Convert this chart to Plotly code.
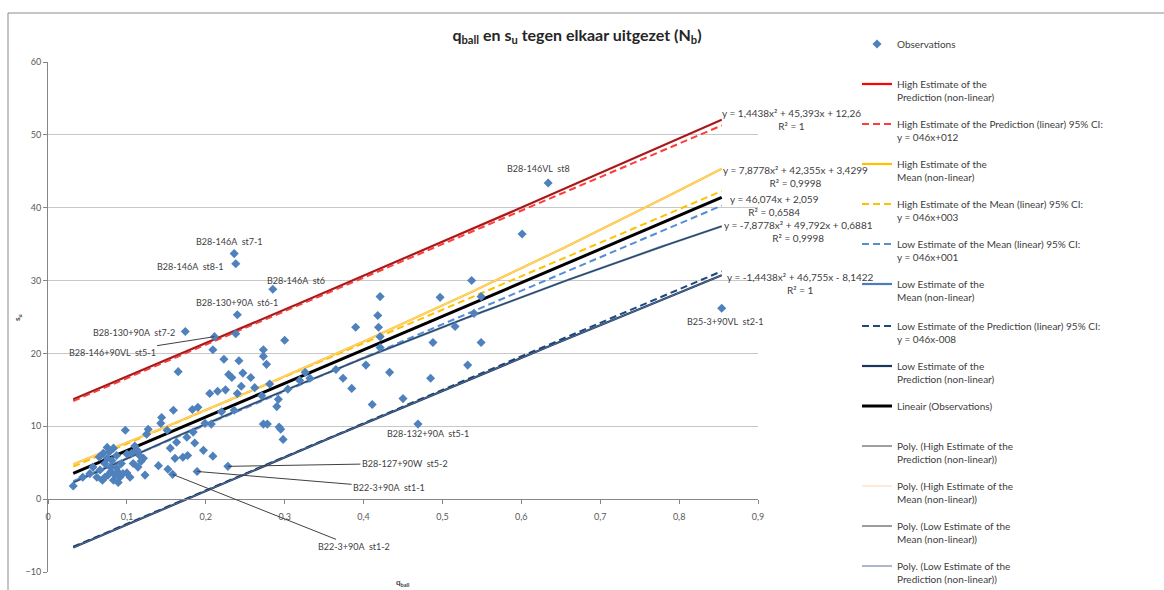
import numpy as np
import plotly.graph_objects as go

# ---------------------------------------------------------------- data
# labelled observations first, then the rest
obs_x = [0.236, 0.238, 0.285, 0.240, 0.174, 0.211, 0.634, 0.854, 0.469, 0.228, 0.189, 0.158,
         0.032, 0.044, 0.053, 0.057, 0.062, 0.066, 0.069, 0.070, 0.072, 0.075, 0.075, 0.076,
         0.079, 0.081, 0.083, 0.083, 0.085, 0.087, 0.089, 0.089, 0.091, 0.098, 0.100, 0.104,
         0.106, 0.108, 0.113, 0.114, 0.116, 0.121, 0.123, 0.125, 0.127, 0.065, 0.078, 0.080,
         0.072, 0.087, 0.093, 0.095, 0.100, 0.110, 0.118,
         0.140, 0.143, 0.144, 0.151, 0.152, 0.155, 0.159, 0.161, 0.163, 0.165, 0.171, 0.176,
         0.177, 0.183, 0.184, 0.186, 0.190, 0.197, 0.199, 0.205, 0.207, 0.209, 0.209,
         0.223, 0.229, 0.233, 0.238, 0.236, 0.242, 0.247, 0.257, 0.262, 0.271, 0.273, 0.273,
         0.273, 0.277, 0.278, 0.281, 0.290, 0.292, 0.293, 0.295, 0.298, 0.300, 0.304, 0.215,
         0.220, 0.225, 0.240, 0.245,
         0.319, 0.332, 0.326, 0.365, 0.374, 0.385, 0.390, 0.403, 0.411, 0.418, 0.419, 0.421,
         0.421, 0.421, 0.433, 0.450, 0.485, 0.488, 0.497, 0.516, 0.532, 0.537, 0.540, 0.549,
         0.549, 0.601]
obs_y = [33.7, 32.3, 28.8, 25.3, 23.0, 22.3, 43.4, 26.2, 10.3, 4.5, 3.8, 3.4,
         1.8, 3.0, 3.5, 4.4, 3.0, 4.0, 2.6, 6.3, 4.9, 7.1, 5.6, 3.3,
         4.4, 5.3, 7.0, 2.6, 3.3, 6.0, 3.7, 2.3, 3.0, 9.45, 3.6, 3.0,
         6.3, 4.9, 6.7, 4.4, 6.0, 5.6, 3.3, 8.9, 9.6, 5.8, 6.5, 3.8,
         3.0, 4.3, 4.9, 3.5, 6.2, 7.3, 5.2,
         4.6, 10.4, 11.2, 9.45, 4.1, 7.0, 12.2, 5.6, 7.8, 17.5, 5.75, 8.5,
         6.0, 12.3, 9.2, 7.7, 12.6, 6.7, 10.4, 14.5, 10.3, 5.9, 20.5,
         19.2, 17.1, 16.7, 22.7, 12.2, 19.0, 17.3, 16.7, 15.3, 14.2, 20.5, 19.6,
         10.3, 18.5, 10.3, 15.8, 12.7, 13.7, 9.9, 9.6, 8.2, 21.8, 15.1, 14.8,
         12.0, 15.0, 14.5, 15.5,
         16.3, 16.6, 17.4, 17.8, 16.6, 15.2, 23.6, 18.4, 13.0, 25.2, 23.6, 22.3,
         20.8, 27.8, 17.4, 13.8, 16.6, 21.5, 27.7, 23.7, 18.4, 30.0, 25.5, 27.8,
         21.5, 36.4]

label_text = ["B28-146A  st7-1", "B28-146A  st8-1", "B28-146A  st6", "B28-130+90A  st6-1",
              "B28-130+90A  st7-2", "B28-146+90VL  st5-1", "B28-146VL  st8",
              "B25-3+90VL  st2-1", "B28-132+90A  st5-1", "B28-127+90W  st5-2",
              "B22-3+90A  st1-1", "B22-3+90A  st1-2"]
label_idx = list(range(12))

# trendline coefficients: (x^2, x, constant)
coef_high_pred_nl = (1.4438, 45.393, 12.26)
coef_high_pred_lin = (0.0, 46.0, 12.0)
coef_high_mean_nl = (7.8778, 42.355, 3.4299)
coef_high_mean_lin = (0.0, 46.0, 3.0)
coef_low_mean_lin = (0.0, 46.0, 1.0)
coef_low_mean_nl = (-7.8778, 49.792, 0.6881)
coef_low_pred_lin = (0.0, 46.0, -8.0)
coef_low_pred_nl = (-1.4438, 46.755, -8.1422)
coef_obs_lin = (0.0, 46.074, 2.059)

eq_high_pred = "y = 1,4438x² + 45,393x + 12,26<br>R² = 1"
eq_high_mean = "y = 7,8778x² + 42,355x + 3,4299<br>R² = 0,9998"
eq_obs = "y = 46,074x + 2,059<br>R² = 0,6584"
eq_low_mean = "y = -7,8778x² + 49,792x + 0,6881<br>R² = 0,9998"
eq_low_pred = "y = -1,4438x² + 46,755x - 8,1422<br>R² = 1"

x_ticks = [0, 0.1, 0.2, 0.3, 0.4, 0.5, 0.6, 0.7, 0.8, 0.9]
x_tick_text = ["0", "0,1", "0,2", "0,3", "0,4", "0,5", "0,6", "0,7", "0,8", "0,9"]
y_ticks = [-10, 0, 10, 20, 30, 40, 50, 60]

# ---------------------------------------------------------------- styling
FONT = "Lato"
TXT = "#404040"
W, H = 1164, 590
ML, MR, MT, MB = 48, 406, 62, 18
PW, PH = W - ML - MR, H - MT - MB
X_RANGE = [0, 0.9]
Y_RANGE = [-10, 60]
DASH = "7px,4px"


def px_x(px):
    return (px - ML) / PW


def px_y(py):
    return (H - MB - py) / PH


xs = np.linspace(min(obs_x), max(obs_x), 120)


def poly(c):
    return c[0] * xs ** 2 + c[1] * xs + c[2]


fig = go.Figure()

# legend label, coefficients, colour, dash, width, rank, legend box
series = [
    ("High Estimate of the<br>Prediction (non-linear)", coef_high_pred_nl, "#FF0000", "solid", 2.2, 2, "legend"),
    ("High Estimate of the Prediction (linear) 95% CI:<br>y = 046x+012", coef_high_pred_lin, "#FF3B3B", DASH, 2.0, 3, "legend"),
    ("High Estimate of the<br>Mean (non-linear)", coef_high_mean_nl, "#FFC000", "solid", 2.2, 4, "legend"),
    ("High Estimate of the Mean (linear) 95% CI:<br>y = 046x+003", coef_high_mean_lin, "#FFC000", DASH, 2.0, 5, "legend"),
    ("Low Estimate of the Mean (linear) 95% CI:<br>y = 046x+001", coef_low_mean_lin, "#558ED5", DASH, 2.0, 6, "legend"),
    ("Low Estimate of the<br>Mean (non-linear)", coef_low_mean_nl, "#4A7EBB", "solid", 2.2, 7, "legend"),
    ("Low Estimate of the Prediction (linear) 95% CI:<br>y = 046x-008", coef_low_pred_lin, "#1F497D", DASH, 2.0, 8, "legend2"),
    ("Low Estimate of the<br>Prediction (non-linear)", coef_low_pred_nl, "#17375E", "solid", 2.2, 9, "legend2"),
]
for name, c, col, dash, w, rank, lg in series:
    fig.add_trace(go.Scatter(x=xs, y=poly(c), mode="lines", name=name,
                             line=dict(color=col, dash=dash, width=w), legend=lg,
                             legendgroup=name, legendrank=rank, hoverinfo="skip"))

fig.add_trace(go.Scatter(x=xs, y=poly(coef_obs_lin), mode="lines",
                         name="Lineair (Observations)<br>\u00a0",
                         line=dict(color="#000000", width=3), legend="legend2",
                         legendgroup="lin", legendrank=10))

overlays = [
    ("Poly. (High Estimate of the<br>Prediction (non-linear))", coef_high_pred_nl, "#404040", 11),
    ("Poly. (High Estimate of the<br>Mean (non-linear))", coef_high_mean_nl, "#FCD5B4", 12),
    ("Poly. (Low Estimate of the<br>Mean (non-linear))", coef_low_mean_nl, "#3A3A3A", 13),
    ("Poly. (Low Estimate of the<br>Prediction (non-linear))", coef_low_pred_nl, "#5A6E96", 14),
]
for name, c, col, rank in overlays:
    fig.add_trace(go.Scatter(x=xs, y=poly(c), mode="lines", name=name,
                             line=dict(color=col, width=1), legend="legend2",
                             legendgroup=name, legendrank=rank, hoverinfo="skip"))

fig.add_trace(go.Scatter(x=obs_x, y=obs_y, mode="markers", name="Observations<br>\u00a0",
                         marker=dict(symbol="diamond", size=7, color="#4F81BD"),
                         legend="legend", legendgroup="obs", legendrank=1))

# ---------------------------------------------------------------- annotations
ann = []
# label offsets in pixels (dx, dy), leader line flag
label_pos = [(-5, -12, False), (-45, 3, False), (23, -9, False), (0, -12, False),
             (-51, 1, False), (-102, 16, True), (-10, -14, False), (3, 13, False),
             (10, 9, False), (177, -3, True), (192, 16, True), (181, 72, True)]
for t, i, (dx, dy, lead) in zip(label_text, label_idx, label_pos):
    a = dict(x=obs_x[i], y=obs_y[i], text=t, font=dict(family=FONT, size=9, color=TXT))
    if lead:
        a.update(showarrow=True, arrowhead=0, arrowwidth=1, arrowcolor="#404040",
                 ax=dx, ay=dy, standoff=0)
    else:
        a.update(showarrow=False, xshift=dx, yshift=-dy)
    ann.append(a)

# trendline equations next to the line ends
eq_pos = [(eq_high_pred, 791, 119), (eq_high_mean, 795, 176), (eq_obs, 774, 205),
          (eq_low_mean, 798, 231), (eq_low_pred, 800, 283)]
for t, px, py in eq_pos:
    ann.append(dict(xref="paper", yref="paper", x=px_x(px), y=px_y(py),
                    xanchor="center", yanchor="middle", text=t, showarrow=False,
                    font=dict(family=FONT, size=10, color=TXT), align="center"))

# axis titles
ann.append(dict(xref="paper", yref="paper", x=px_x(403), y=px_y(582),
                xanchor="center", yanchor="middle", text="<b>q<sub>ball</sub></b>",
                showarrow=False, font=dict(family=FONT, size=8, color=TXT)))
ann.append(dict(xref="paper", yref="paper", x=px_x(17), y=px_y(318),
                xanchor="center", yanchor="middle", text="<b>s<sub>u</sub></b>",
                textangle=-90, showarrow=False, font=dict(family=FONT, size=8, color=TXT)))

legend_style = dict(xref="container", yref="container", xanchor="left", yanchor="top",
                    valign="top", font=dict(family=FONT, size=10, color=TXT),
                    tracegroupgap=11, bgcolor="rgba(0,0,0,0)")

fig.update_layout(
    width=W, height=H,
    margin=dict(l=ML, r=MR, t=MT, b=MB),
    paper_bgcolor="white", plot_bgcolor="white",
    font=dict(family=FONT, color=TXT),
    title=dict(text="<b>q<sub>ball</sub> en s<sub>u</sub> tegen elkaar uitgezet (N<sub>b</sub>)</b>",
               x=577 / W, xref="container", xanchor="center",
               y=1 - 35 / H, yref="container", yanchor="middle",
               font=dict(family=FONT, size=16, color="#262626")),
    xaxis=dict(range=X_RANGE, tickvals=x_ticks, ticktext=x_tick_text,
               anchor="free", position=(0 - Y_RANGE[0]) / (Y_RANGE[1] - Y_RANGE[0]),
               showgrid=False, zeroline=False, showline=True, linecolor="#868686",
               ticks="outside", ticklen=4, tickcolor="#868686", ticklabelstandoff=5,
               tickfont=dict(family=FONT, size=9, color="#595959")),
    yaxis=dict(range=Y_RANGE, tickvals=y_ticks, showgrid=True, gridcolor="#C8C8C8",
               gridwidth=1.3, zeroline=False, showline=True, linecolor="#868686",
               ticks="outside", ticklen=4, tickcolor="#868686",
               tickfont=dict(family=FONT, size=9, color="#595959")),
    legend=dict(x=857 / W, y=1 - 31 / H, **legend_style),
    legend2=dict(x=857 / W, y=1 - 313 / H, **legend_style),
    annotations=ann,
    shapes=[dict(type="rect", xref="paper", yref="paper",
                 x0=px_x(8), x1=px_x(W + 20), y0=px_y(H + 20), y1=px_y(13),
                 line=dict(color="#8C8C8C", width=1), layer="below")],
    showlegend=True,
)

fig.write_html("out.html")
